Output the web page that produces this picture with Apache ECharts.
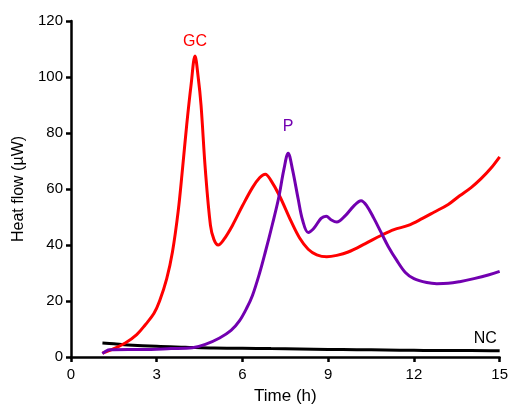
<!DOCTYPE html>
<html>
<head>
<meta charset="utf-8">
<script src="https://cdn.jsdelivr.net/npm/echarts@6/dist/echarts.min.js"></script>
<style>
html,body{margin:0;padding:0;background:#fff;}
#chart{width:511px;height:410px;}
</style>
</head>
<body>
<div id="chart"></div>
<script>
var xTicks = [0, 3, 6, 9, 12, 15];
var yTicks = [0, 20, 40, 60, 80, 100, 120];

var gcData = [[1.1,1.4],[1.5,3],[1.9,5],[2.3,8],[2.6,11.5],[2.9,15.5],[3.1,20],[3.35,28],[3.55,37.5],[3.75,52],[3.9,67],[4.05,83],[4.2,97],[4.34,107.5],[4.45,100],[4.55,90],[4.7,67],[4.88,47],[5.0,42],[5.15,40],[5.35,42],[5.65,47],[6.0,54],[6.35,60.5],[6.6,64],[6.8,65.3],[7.0,63],[7.3,57.5],[7.7,48.5],[8.0,42.5],[8.3,38.5],[8.6,36.5],[8.95,35.8],[9.3,36.3],[9.7,37.5],[10.3,40.5],[10.85,43.4],[11.3,45.5],[11.8,47],[12.3,49.5],[12.7,51.7],[13.2,54.5],[13.6,57.6],[14.0,60.5],[14.35,63.7],[14.7,67.5],[15.0,71.5]];

var pData = [[1.1,1.2],[1.35,2.6],[2,2.7],[2.5,2.7],[3.5,3],[4.25,3.3],[4.7,4.5],[5.2,6.8],[5.6,9.5],[5.9,13],[6.15,17.5],[6.35,22],[6.6,30],[6.8,37.5],[7.05,47.5],[7.26,56.5],[7.45,67],[7.6,72.8],[7.75,67],[7.95,56.4],[8.1,49],[8.3,44.5],[8.5,46],[8.75,49.5],[8.93,50.3],[9.1,49],[9.3,48.2],[9.6,50.5],[9.9,54],[10.15,55.8],[10.35,54],[10.6,49.5],[10.85,44.5],[11.1,39.5],[11.4,34.5],[11.7,30.2],[12.0,28],[12.45,26.6],[12.8,26.2],[13.2,26.3],[13.6,26.9],[14.1,28],[14.6,29.3],[15,30.6]];

var ncData = [[1.1,5],[1.5,4.7],[2,4.3],[3,3.8],[4,3.5],[5,3.2],[6,3.1],[7,3],[8,2.9],[9,2.7],[10,2.6],[11,2.5],[12,2.4],[13,2.3],[14,2.3],[15,2.2]];

var seriesNames = ['GC', 'P', 'NC'];
var seriesColors = ['#ff0000', '#7200b0', '#000000'];

var font = 'Liberation Sans, Arial, sans-serif';
var chart = echarts.init(document.getElementById('chart'));

function mkSeries(name, data, color, labelCoord, labelPos, labelDist) {
  return {
    name: name, type: 'line', data: data, smooth: 0.35, symbol: 'none',
    lineStyle: {color: color, width: 3}, z: 3,
    markPoint: {
      symbol: 'circle', symbolSize: 0, silent: true,
      data: [{coord: labelCoord}],
      label: {show: true, formatter: name, position: labelPos, distance: labelDist,
        color: color, fontSize: 16, fontFamily: font}
    }
  };
}

chart.setOption({
  animation: false,
  grid: {left: 71, right: 7, top: 21, bottom: 50, containLabel: false},
  xAxis: {
    type: 'value', min: xTicks[0], max: xTicks[xTicks.length-1], interval: 3,
    name: 'Time (h)', nameLocation: 'middle', nameGap: 31,
    nameTextStyle: {fontSize: 17, color: '#000', fontFamily: font},
    axisLine: {lineStyle: {color: '#000', width: 2.5}},
    axisTick: {show: true, length: 5, lineStyle: {color: '#000', width: 2.5}},
    axisLabel: {fontSize: 15, color: '#000', fontFamily: font, margin: 10},
    splitLine: {show: false}
  },
  yAxis: {
    type: 'value', min: yTicks[0], max: yTicks[yTicks.length-1], interval: 20,
    name: 'Heat flow (µW)', nameLocation: 'middle', nameGap: 44,
    nameTextStyle: {fontSize: 16, color: '#000', fontFamily: font},
    axisLine: {show: true, lineStyle: {color: '#000', width: 2.5}},
    axisTick: {show: true, length: 5, lineStyle: {color: '#000', width: 2.5}},
    axisLabel: {fontSize: 15, color: '#000', fontFamily: font, margin: 8},
    splitLine: {show: false}
  },
  series: [
    mkSeries(seriesNames[2], ncData, seriesColors[2], [14.5, 6.7], 'inside', 0),
    mkSeries(seriesNames[0], gcData, seriesColors[0], [4.34, 107.5], 'top', 6),
    mkSeries(seriesNames[1], pData, seriesColors[1], [7.6, 72.8], 'top', 19)
  ]
});
</script>
</body>
</html>
